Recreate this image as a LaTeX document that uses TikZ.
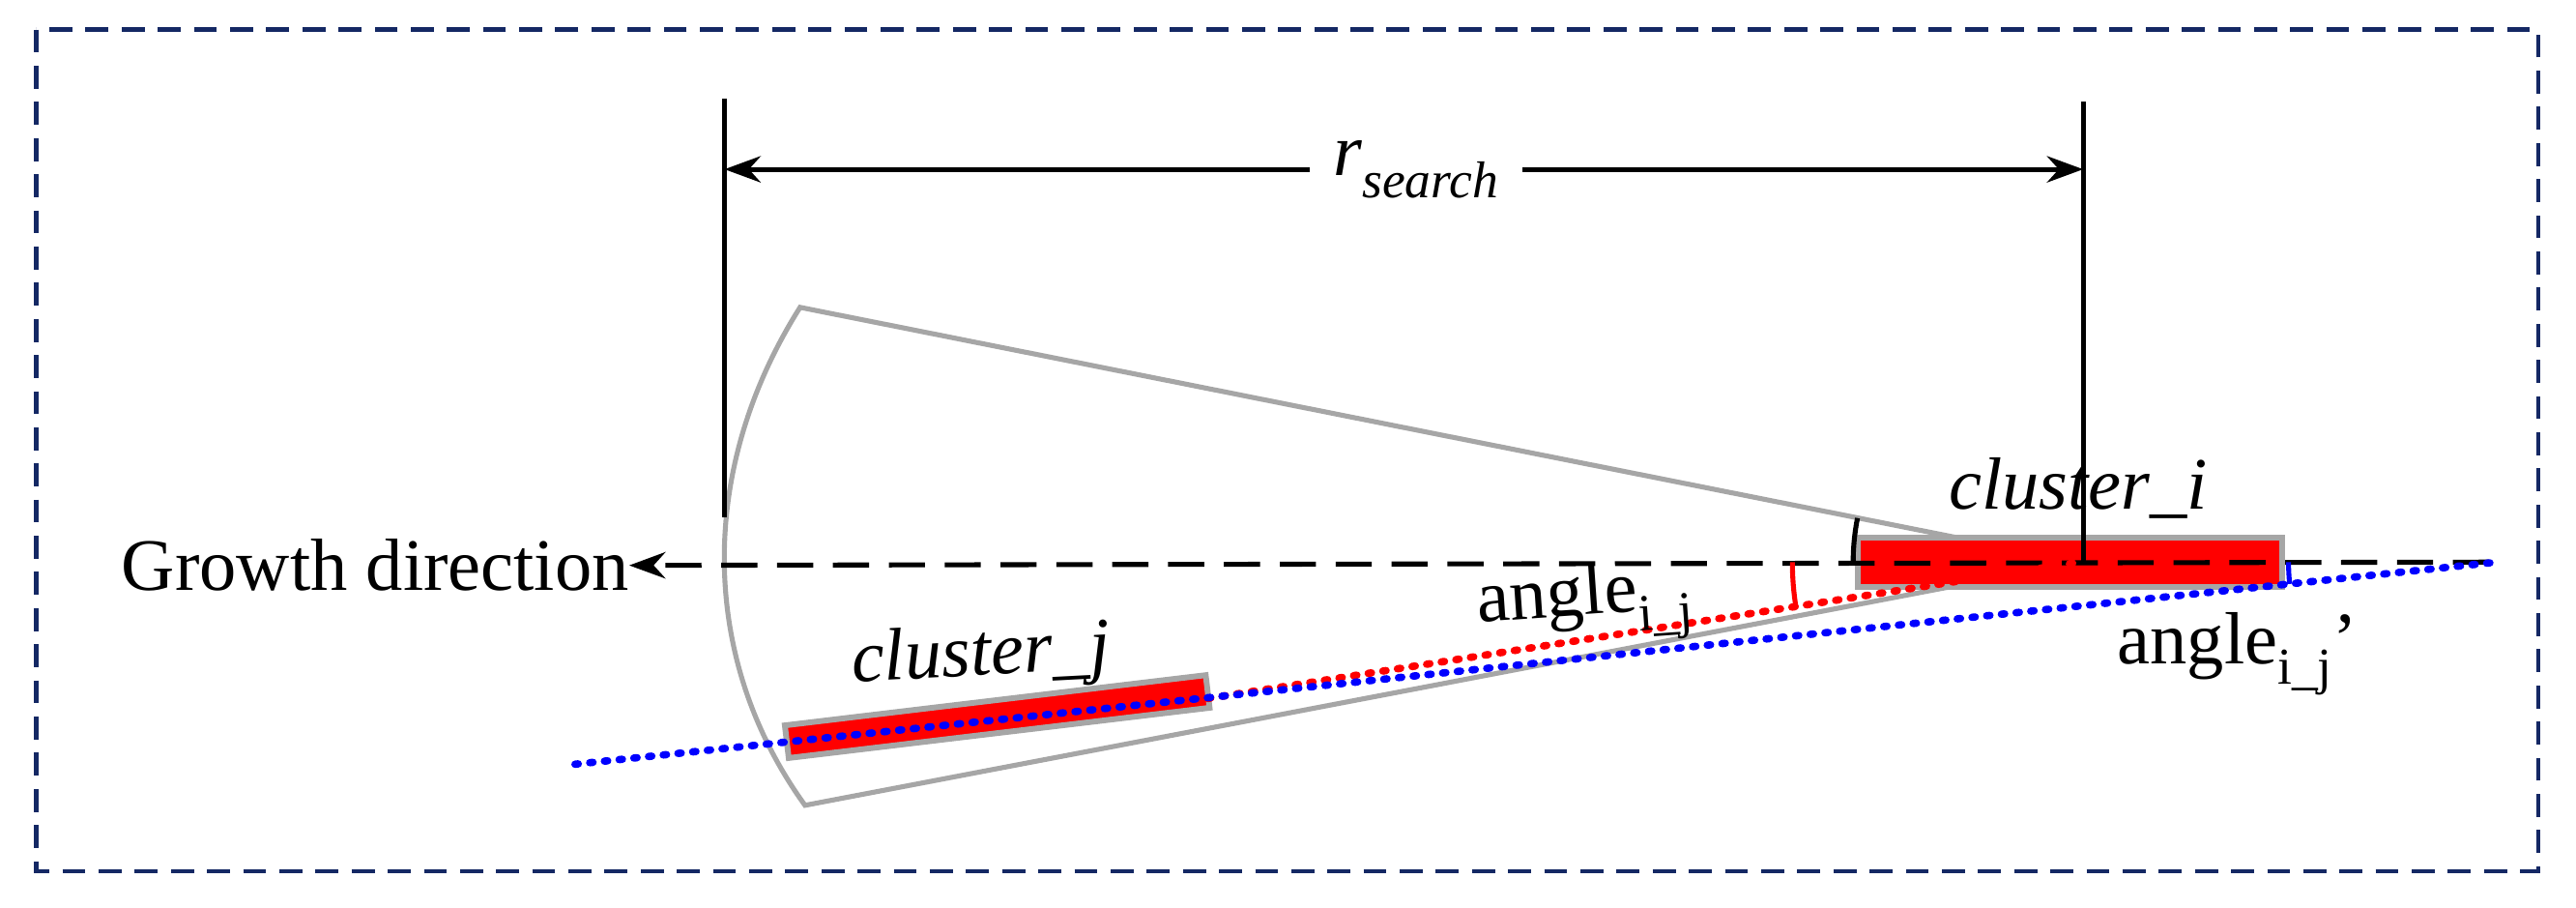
\documentclass[tikz,border=0pt]{standalone}
\usepackage{fontspec}
\setmainfont{Liberation Serif}
\usetikzlibrary{arrows.meta}
\definecolor{navy}{RGB}{20,40,100}
\definecolor{gline}{RGB}{166,166,166}
\begin{document}
\begin{tikzpicture}[x=1pt,y=-1pt,
  lab/.style={font=\fontsize{45}{50}\selectfont,inner sep=0pt},
  clus/.style={fill=red,draw=gline,line width=3.5pt},
  sector/.style={draw=gline,line width=3pt},
  dotr/.style={red,line width=4.5pt,dash pattern=on 2pt off 7pt,line cap=round},
  dotb/.style={blue,line width=4.5pt,dash pattern=on 2pt off 7pt,line cap=round}]
\useasboundingbox (0,0) rectangle (1568,552);
\draw[navy,line width=2.5pt,dash pattern=on 14pt off 8pt] (22,18) rectangle (1545,530);
% sector
\coordinate (apex) at (1266,342);
\coordinate (st) at (487,187);
\coordinate (sb) at (490,490);
\draw[sector] (apex) -- (st) .. controls (425,285) and (425,400) .. (sb) -- cycle;
% clusters
\node[clus,minimum width=258pt,minimum height=30pt,inner sep=0pt] (ci) at (1260,342) {};
\node[clus,minimum width=258pt,minimum height=20pt,inner sep=0pt,rotate=6.8] (cj) at (607,436) {};
% verticals and r_search
\coordinate (v1t) at (441,60); \coordinate (v1b) at (441,315);
\coordinate (v2t) at (1268,62); \coordinate (v2b) at (1268,342);
\draw[line width=3pt] (v1t) -- (v1b) (v2t) -- (v2b);
\node[lab] (rs) at (862,103) {\textit{r}\textsubscript{\textit{search}}};
\draw[line width=3pt,-{Stealth[length=22pt,width=16pt]}] (rs.west) ++(-14,0) -- (441,103);
\draw[line width=3pt,-{Stealth[length=22pt,width=16pt]}] (rs.east) ++(14,0) -- (1268,103);
% growth direction
\node[lab,anchor=east] (gd) at (383,344) {Growth direction};
\coordinate (gr) at (1515,342);
\draw[line width=3pt,dash pattern=on 22pt off 12pt,-{Stealth[length=22pt,width=16pt]}] (gr) -- (gd.east);
% dotted lines
\coordinate (bl) at (350,465); \coordinate (br) at (1520,342);
\draw[dotr] (735,425) -- (apex);
\draw[dotb] (bl) -- (br);
% angle arcs
\draw[line width=3pt] (apex) ++(180:138) arc (180:191.2:138);
\draw[red,line width=3pt] (apex) ++(170.8:175) arc (170.8:180:175);
\draw[blue,line width=3pt] (br) ++(174:127) arc (174:180:127);
% labels
\node[lab] (li) at (1265,297) {\textit{cluster\_i}};
\node[lab,rotate=3] (lj) at (597,400) {\textit{cluster\_j}};
\node[lab,rotate=4] (a1) at (965,368) {angle\textsubscript{i\_j}};
\node[lab] (a2) at (1362,398) {angle\textsubscript{i\_j}'};
\end{tikzpicture}
\end{document}
